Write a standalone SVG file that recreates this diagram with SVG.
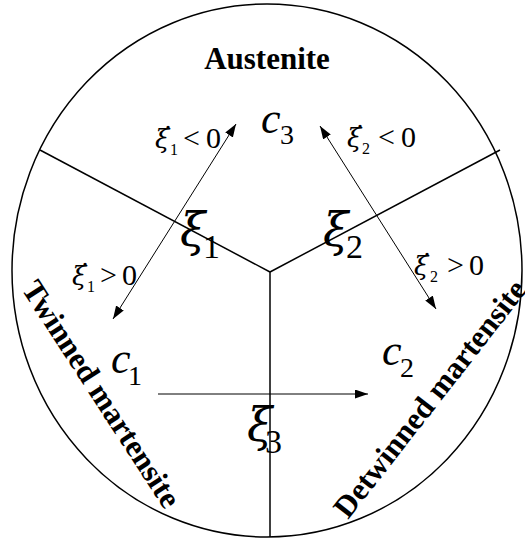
<svg xmlns="http://www.w3.org/2000/svg" width="525" height="541" viewBox="0 0 525 541">
<style>
.ln{stroke:#000;stroke-width:1.5;fill:none}
.ar{stroke:#000;stroke-width:1;fill:none}
.t{font-family:"Liberation Serif","Times New Roman",serif;fill:#000}
.b{font-weight:bold;font-size:31px}
.ci{font-style:italic;font-size:44px}
.sb{font-size:28px}
.xi{font-size:46px;font-style:italic;font-family:"DejaVu Serif",serif}
.xs{font-size:34px}
.sm{font-size:30px}
.si{font-size:26px;font-style:italic;font-family:"DejaVu Serif",serif}
.ss{font-size:16px}
</style>
<defs>
<marker id="ah" markerUnits="userSpaceOnUse" markerWidth="14" markerHeight="10" refX="13" refY="4.5" orient="auto-start-reverse">
<path d="M0,0 L13,4.5 L0,9 z" fill="#000"/>
</marker>
</defs>
<g id="regions">
<ellipse class="ln" cx="267" cy="270.5" rx="255" ry="266.5"/>
<line class="ln" x1="40" y1="150" x2="270" y2="272"/>
<line class="ln" x1="500" y1="150" x2="270" y2="272"/>
<line class="ln" x1="270" y1="272" x2="270" y2="537"/>
</g>
<g id="connectors">
<line class="ar" x1="113" y1="319" x2="236" y2="124" marker-start="url(#ah)" marker-end="url(#ah)"/>
<line class="ar" x1="320" y1="126" x2="436" y2="309" marker-start="url(#ah)" marker-end="url(#ah)"/>
<line class="ar" x1="158" y1="394" x2="368" y2="394" marker-end="url(#ah)"/>
</g>
<g id="austenite">
<text class="t b" x="267" y="69" text-anchor="middle">Austenite</text>
</g>
<g id="twinned">
<text class="t b" transform="translate(21,289) rotate(57)">Twinned martensite</text>
</g>
<g id="detwinned">
<text class="t b" transform="translate(348,520) rotate(-52)">Detwinned martensite</text>
</g>
<g id="c3">
<text class="t"><tspan class="ci" x="261" y="133">c</tspan><tspan class="sb" x="280" y="144">3</tspan></text>
</g>
<g id="c1">
<text class="t"><tspan class="ci" x="111" y="373">c</tspan><tspan class="sb" x="128" y="385">1</tspan></text>
</g>
<g id="c2">
<text class="t"><tspan class="ci" x="382" y="365">c</tspan><tspan class="sb" x="400" y="377">2</tspan></text>
</g>
<g id="xi1">
<text class="t"><tspan class="xi" x="180" y="246">ξ</tspan><tspan class="xs" x="203" y="258">1</tspan></text>
</g>
<g id="xi2">
<text class="t"><tspan class="xi" x="323" y="246">ξ</tspan><tspan class="xs" x="346" y="258">2</tspan></text>
</g>
<g id="xi3">
<text class="t"><tspan class="xi" x="247" y="441">ξ</tspan><tspan class="xs" x="265" y="453">3</tspan></text>
</g>
<g id="lab1neg">
<text class="t"><tspan class="si" x="155" y="148">ξ</tspan><tspan class="sm" x="163" y="146">˙</tspan><tspan class="ss" x="170" y="155">1</tspan><tspan class="sm" x="183" y="148">&lt;</tspan><tspan class="sm" x="206" y="148">0</tspan></text>
</g>
<g id="lab2neg">
<text class="t"><tspan class="si" x="347" y="147">ξ</tspan><tspan class="sm" x="355" y="145">˙</tspan><tspan class="ss" x="362" y="154">2</tspan><tspan class="sm" x="378" y="147">&lt;</tspan><tspan class="sm" x="401" y="147">0</tspan></text>
</g>
<g id="lab1pos">
<text class="t"><tspan class="si" x="72" y="285">ξ</tspan><tspan class="sm" x="80" y="283">˙</tspan><tspan class="ss" x="87" y="292">1</tspan><tspan class="sm" x="100" y="285">&gt;</tspan><tspan class="sm" x="122" y="285">0</tspan></text>
</g>
<g id="lab2pos">
<text class="t"><tspan class="si" x="414" y="275">ξ</tspan><tspan class="sm" x="422" y="273">˙</tspan><tspan class="ss" x="430" y="282">2</tspan><tspan class="sm" x="447" y="275">&gt;</tspan><tspan class="sm" x="469" y="275">0</tspan></text>
</g>
</svg>
